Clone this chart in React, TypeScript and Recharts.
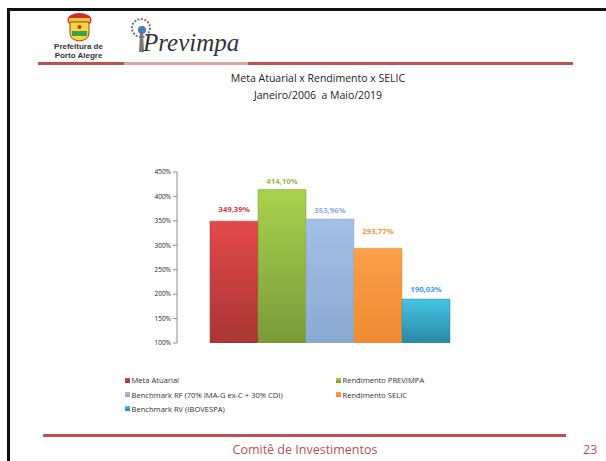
import React from "react";
import { BarChart, Bar, XAxis, YAxis, LabelList } from "recharts";

const categories = ["Jan/2006 a Mai/2019"];
const seriesNames = [
  "Meta Atuarial",
  "Rendimento PREVIMPA",
  "Benchmark RF (70% IMA-G ex-C + 30% CDI)",
  "Rendimento SELIC",
  "Benchmark RV (IBOVESPA)",
];
const seriesKeys = ["meta", "previmpa", "rf", "selic", "rv"];
const seriesValues = [349.39, 414.1, 353.96, 293.77, 190.03];
const yTicks = [100, 150, 200, 250, 300, 350, 400, 450];

const barTop = ["#e4494a", "#a9d24e", "#a3c0e6", "#fca04b", "#45c4e2"];
const barBottom = ["#a93534", "#7b9a37", "#8aa9d2", "#ef8a30", "#2a88a6"];
const labelColors = ["#d0403f", "#93bb4a", "#8eaede", "#f7923e", "#3a9ef0"];
const labelOffsets = [9, 6, 6, 14, 7];

const data = categories.map((c) => {
  const row: Record<string, number | string> = { name: c };
  seriesKeys.forEach((k, i) => (row[k] = seriesValues[i]));
  return row;
});

const fmt = (v: number) => v.toFixed(2).replace(".", ",") + "%";
const FONT = "'Open Sans', 'Liberation Sans', sans-serif";

function Legend() {
  const cells = [
    { i: 0, x: 125, y: 380 },
    { i: 1, x: 336, y: 380 },
    { i: 2, x: 125, y: 394.5 },
    { i: 3, x: 336, y: 394.5 },
    { i: 4, x: 125, y: 408.5 },
  ];
  return (
    <>
      {cells.map((c) => (
        <div
          key={c.i}
          style={{
            position: "absolute",
            left: c.x,
            top: c.y - 6,
            height: 12,
            display: "flex",
            alignItems: "center",
            fontFamily: FONT,
            fontSize: 7.6,
            color: "#333",
            whiteSpace: "nowrap",
          }}
        >
          <span
            style={{
              display: "inline-block",
              width: 5,
              height: 5,
              marginRight: 1.5,
              background: `linear-gradient(${barTop[c.i]}, ${barBottom[c.i]})`,
            }}
          />
          {seriesNames[c.i]}
        </div>
      ))}
    </>
  );
}

export default function App() {
  return (
    <div
      style={{
        position: "absolute",
        left: 0,
        top: 0,
        width: 606,
        height: 461,
        background: "#fff",
        overflow: "hidden",
      }}
    >
      {/* slide frame */}
      <div style={{ position: "absolute", left: 7, top: 8, width: 620, height: 3, background: "#111" }} />
      <div style={{ position: "absolute", left: 7, top: 8, width: 3, height: 470, background: "#111" }} />

      {/* header logos */}
      <svg style={{ position: "absolute", left: 0, top: 0 }} width={606} height={70}>
        <ellipse cx={79.5} cy={20} rx={12} ry={7} fill="#c9302c" />
        <rect x={69} y={18} width={21} height={4} fill="#e9c63a" />
        <path d="M70 22 H89 V33 Q89 40 79.5 41 Q70 40 70 33 Z" fill="#f1d83c" stroke="#b8332f" strokeWidth={1} />
        <rect x={72} y={31} width={15} height={5} fill="#3aa24a" />
        <circle cx={79.5} cy={27} r={2} fill="#c9302c" />
        <rect x={124} y={62} width={124} height={3} fill="#d9a7a6" />
        <circle cx={141} cy={28} r={9} fill="none" stroke="#777" strokeWidth={2} strokeDasharray="2 1.5" />
        <circle cx={142} cy={30} r={4} fill="#4a7ac0" />
        <path d="M140 33 L139 52 L144 52 L143 33 Z" fill="#777" />
      </svg>
      <div
        style={{
          position: "absolute",
          left: 48,
          top: 42,
          width: 61,
          textAlign: "center",
          fontFamily: "'Liberation Sans', sans-serif",
          fontWeight: 700,
          fontSize: 8,
          lineHeight: "9px",
          color: "#333",
        }}
      >
        Prefeitura de
        <br />
        Porto Alegre
      </div>
      <div
        style={{
          position: "absolute",
          left: 143,
          top: 28,
          fontFamily: "'Liberation Serif', serif",
          fontStyle: "italic",
          fontSize: 25,
          lineHeight: "30px",
          color: "#333",
        }}
      >
        Previmpa
      </div>
      <div style={{ position: "absolute", left: 38, top: 62, width: 86, height: 3, background: "#c0504d" }} />
      <div style={{ position: "absolute", left: 248, top: 62, width: 325, height: 3, background: "#c0504d" }} />

      {/* title */}
      <div
        style={{
          position: "absolute",
          left: 0,
          top: 70,
          width: 636,
          textAlign: "center",
          fontFamily: FONT,
          fontSize: 10.5,
          lineHeight: "17px",
          color: "#222",
        }}
      >
        Meta Atuarial x Rendimento x SELIC
        <br />
        Janeiro/2006 &nbsp;a Maio/2019
      </div>

      <div style={{ position: "absolute", left: 0, top: 0 }}>
        <BarChart
          width={606}
          height={461}
          data={data}
          margin={{ top: 172, right: 148, bottom: 118, left: 137 }}
          barCategoryGap={0}
          barGap={0}
        >
          <defs>
            {seriesKeys.map((k, i) => (
              <linearGradient key={k} id={`g-${k}`} x1="0" y1="0" x2="0" y2="1">
                <stop offset="0%" stopColor={barTop[i]} />
                <stop offset="100%" stopColor={barBottom[i]} />
              </linearGradient>
            ))}
          </defs>
          <XAxis
            dataKey="name"
            tick={false}
            height={0}
            axisLine={{ stroke: "#8c8c8c" }}
            tickLine={false}
            padding={{ left: 33, right: 10 }}
          />
          <YAxis
            width={40}
            domain={[100, 450]}
            ticks={yTicks}
            interval={0}
            allowDataOverflow
            tickFormatter={(v: number) => `${v}%`}
            tick={{ fontSize: 6.5, fill: "#222", fontFamily: FONT }}
            tickSize={4}
            tickLine={{ stroke: "#8c8c8c" }}
            axisLine={{ stroke: "#8c8c8c" }}
          />
          {seriesKeys.map((k, i) => (
            <Bar
              key={k}
              dataKey={k}
              name={seriesNames[i]}
              fill={`url(#g-${k})`}
              stroke={barBottom[i]}
              strokeWidth={0.5}
              isAnimationActive={false}
            >
              <LabelList
                dataKey={k}
                position="top"
                offset={labelOffsets[i]}
                formatter={(v: number) => fmt(v)}
                style={{ fontSize: 7.8, fontWeight: 700, fill: labelColors[i], fontFamily: FONT }}
              />
            </Bar>
          ))}
        </BarChart>
      </div>

      <Legend />

      {/* footer */}
      <div style={{ position: "absolute", left: 43, top: 434, width: 523, height: 2.5, background: "#c0504d" }} />
      <div
        style={{
          position: "absolute",
          left: 0,
          top: 441,
          width: 610,
          textAlign: "center",
          fontFamily: FONT,
          fontSize: 12.5,
          lineHeight: "18px",
          color: "#c0504d",
        }}
      >
        Comitê de Investimentos
      </div>
      <div
        style={{
          position: "absolute",
          left: 583,
          top: 441,
          fontFamily: FONT,
          fontSize: 12.5,
          lineHeight: "18px",
          color: "#c0504d",
        }}
      >
        23
      </div>
    </div>
  );
}
